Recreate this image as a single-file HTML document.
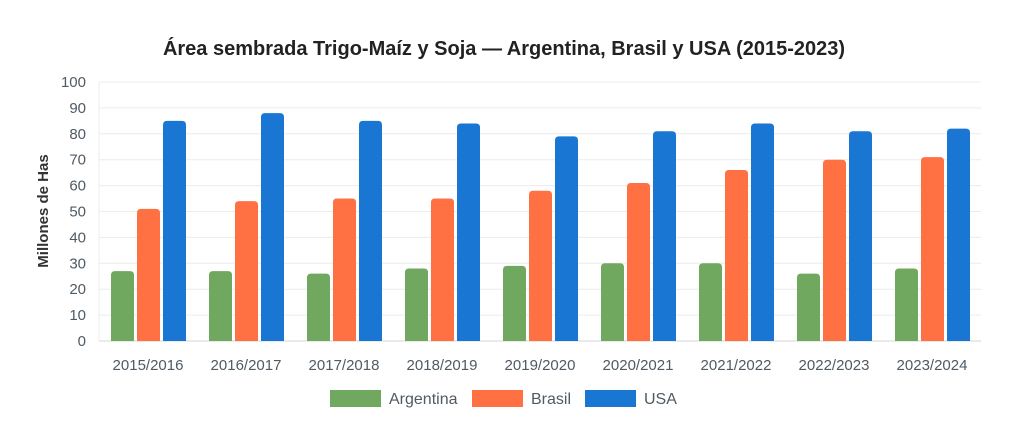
<!DOCTYPE html>
<html><head><meta charset="utf-8"><style>
body{margin:0;background:#fff;font-family:"Liberation Sans",Arial,sans-serif;}
</style></head><body>
<svg width="1024" height="438" xmlns="http://www.w3.org/2000/svg" font-family="Liberation Sans, Arial, sans-serif">
<rect width="1024" height="438" fill="#fff"/>
<text x="504" y="55" text-anchor="middle" font-size="20" font-weight="bold" fill="#222">Área sembrada Trigo-Maíz y Soja — Argentina, Brasil y USA (2015-2023)</text>
<text transform="translate(48,211) rotate(-90)" text-anchor="middle" font-size="15" font-weight="bold" fill="#333">Millones de Has</text>
<g id="grid"></g>
<g id="bars"></g>
<g font-size="16" fill="#4f5a63">
<rect x="330" y="390" width="51" height="17" fill="#6fa85e"/><text x="389" y="404">Argentina</text>
<rect x="472" y="390" width="51" height="17" fill="#ff7043"/><text x="531" y="404">Brasil</text>
<rect x="585" y="390" width="51" height="17" fill="#1976d2"/><text x="644" y="404">USA</text>
</g>
<script>
var s='http://www.w3.org/2000/svg',g=document.getElementById('grid'),b=document.getElementById('bars');
function el(p,t,a,txt){var e=document.createElementNS(s,t);for(var k in a)e.setAttribute(k,a[k]);if(txt)e.textContent=txt;p.appendChild(e);return e;}
var y0=341,k=2.59;
for(var v=0;v<=100;v+=10){var y=y0-v*k;el(g,'line',{x1:99,x2:981,y1:y,y2:y,stroke:v?'#ececec':'#d6d6d6','stroke-width':1});
el(g,'text',{x:86,y:y+5,'text-anchor':'end','font-size':15,fill:'#4f5a63'},String(v));}
el(g,'line',{x1:99,x2:99,y1:82,y2:341,stroke:'#ececec'});
var A=[27,27,26,28,29,30,30,26,28],B=[51,54,55,55,58,61,66,70,71],U=[85,88,85,84,79,81,84,81,82];
var L=['2015/2016','2016/2017','2017/2018','2018/2019','2019/2020','2020/2021','2021/2022','2022/2023','2023/2024'];
var C=['#6fa85e','#ff7043','#1976d2'];
function bar(x,v,c){var h=v*k,y=y0-h,w=23,r=4;
el(b,'path',{d:'M'+x+','+y0+'V'+(y+r)+'Q'+x+','+y+' '+(x+r)+','+y+'H'+(x+w-r)+'Q'+(x+w)+','+y+' '+(x+w)+','+(y+r)+'V'+y0+'Z',fill:c});}
for(var i=0;i<9;i++){var x=111+i*98;bar(x,A[i],C[0]);bar(x+26,B[i],C[1]);bar(x+52,U[i],C[2]);
el(b,'text',{x:148+i*98,y:370,'text-anchor':'middle','font-size':15,fill:'#4f5a63'},L[i]);}
</script>
</svg>
</body></html>
